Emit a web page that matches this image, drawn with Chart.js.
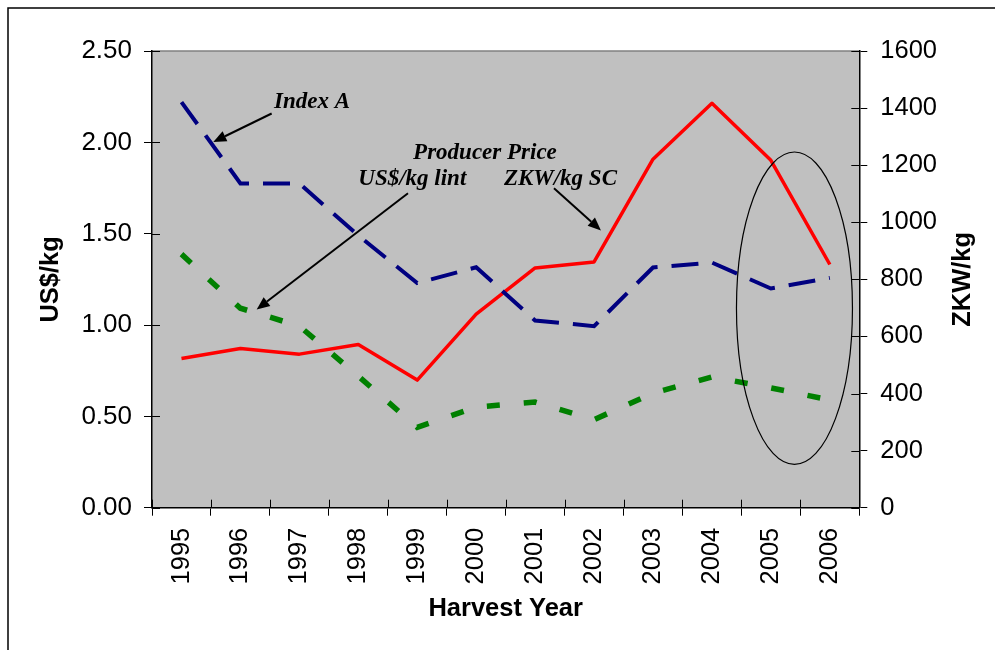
<!DOCTYPE html>
<html>
<head>
<meta charset="utf-8">
<style>
html,body{margin:0;padding:0;background:#fff;}
#wrap{width:995px;height:650px;position:relative;}
</style>
<script src="https://cdn.jsdelivr.net/npm/chart.js@4.4.1/dist/chart.umd.min.js"></script>
</head>
<body>
<div id="wrap"><canvas id="c" width="995" height="650"></canvas></div>
<script>
// ---- data ----
const years = ['1995','1996','1997','1998','1999','2000','2001','2002','2003','2004','2005','2006'];
const indexA = [2.22, 1.775, 1.775, 1.49, 1.23, 1.316, 1.025, 0.994, 1.315, 1.342, 1.20, 1.258];       // US$/kg
const producerUSD = [1.388, 1.092, 0.994, 0.72, 0.44, 0.551, 0.578, 0.482, 0.627, 0.716, 0.656, 0.59]; // US$/kg lint
const producerZKW = [523, 558, 538, 572, 447, 678, 840, 861, 1221, 1417, 1217, 852];                 // ZKW/kg SC
const leftAxisMax = 2.5, leftAxisStep = 0.5;
const rightAxisMax = 1600, rightAxisStep = 200;

// annotation texts (positions given in scale units: category index, left-axis value)
const noteTexts = [
  {text:'Index A', x:1.57, y:2.188},
  {text:'Producer Price', x:3.93, y:1.908},
  {text:'US$/kg lint', x:3.0, y:1.765},
  {text:'ZKW/kg SC', x:5.47, y:1.765}
];
const noteArrows = [
  {x1:1.53, y1:2.158, x2:0.54, y2:2.002},
  {x1:3.843, y1:1.721, x2:1.276, y2:1.085},
  {x1:6.32, y1:1.749, x2:7.117, y2:1.518}
];
const noteEllipse = {x:10.40, y:1.092, rx:0.984, ry:0.855};

const SANS = "'Liberation Sans', Arial, sans-serif";
const SERIF = "'Liberation Serif', 'Times New Roman', serif";
Chart.defaults.font.family = SANS;
Chart.defaults.color = '#000';

const bgPlugin = {
  id:'bg',
  beforeDraw(chart){
    const {ctx, chartArea:a} = chart;
    ctx.save();
    ctx.fillStyle = '#fff';
    ctx.fillRect(0,0,chart.width,chart.height);
    ctx.strokeStyle = '#000';
    ctx.lineWidth = 1.5;
    ctx.strokeRect(8,8,1100,800);
    ctx.fillStyle = '#C0C0C0';
    ctx.fillRect(a.left,a.top,a.right-a.left,a.bottom-a.top);
    ctx.strokeStyle = '#808080';
    ctx.lineWidth = 1.5;
    ctx.beginPath();
    ctx.moveTo(a.left,a.top);
    ctx.lineTo(a.right,a.top);
    ctx.stroke();
    ctx.restore();
  },
  beforeDatasetsDraw(chart){
    // inner half of the crossing tick marks
    const {ctx, chartArea:a, scales} = chart;
    ctx.save();
    ctx.strokeStyle = '#000';
    ctx.lineWidth = 1;
    ctx.beginPath();
    const L = scales.yL, R = scales.yR, X = scales.x;
    L.ticks.forEach((t,i)=>{ const y = Math.round(L.getPixelForTick(i))+0.5; ctx.moveTo(a.left,y); ctx.lineTo(a.left+8,y); });
    R.ticks.forEach((t,i)=>{ const y = Math.round(R.getPixelForTick(i))+0.5; ctx.moveTo(a.right,y); ctx.lineTo(a.right-8,y); });
    for (let i=0;i<=years.length;i++){
      const x = Math.round(X.getPixelForValue(i-0.5))+0.5;
      ctx.moveTo(x,a.bottom); ctx.lineTo(x,a.bottom-8);
    }
    ctx.stroke();
    ctx.restore();
  },
  afterDraw(chart){
    const {ctx, chartArea:a, scales} = chart;
    const X = scales.x, Y = scales.yL, R = scales.yR;
    const px = v => X.getPixelForValue(v);
    const py = v => Y.getPixelForValue(v);
    ctx.save();
    // right axis title, reading bottom to top
    ctx.font = "bold 25.5px " + SANS;
    ctx.fillStyle = '#000';
    ctx.textAlign = 'center';
    ctx.textBaseline = 'middle';
    ctx.translate(R.right - 32, (a.top + a.bottom)/2);
    ctx.rotate(-Math.PI/2);
    ctx.fillText('ZKW/kg', 0, 0);
    ctx.setTransform(1,0,0,1,0,0);
    // annotation texts
    ctx.font = "italic bold 23px " + SERIF;
    ctx.textAlign = 'left';
    ctx.textBaseline = 'alphabetic';
    noteTexts.forEach(n => ctx.fillText(n.text, px(n.x), py(n.y)));
    // arrows
    ctx.strokeStyle = '#000';
    ctx.fillStyle = '#000';
    ctx.lineWidth = 2;
    noteArrows.forEach(ar => {
      const x1 = px(ar.x1), y1 = py(ar.y1), x2 = px(ar.x2), y2 = py(ar.y2);
      const ang = Math.atan2(y2-y1, x2-x1);
      const hl = 13, hw = 5.5;
      const bx = x2 - hl*Math.cos(ang), by = y2 - hl*Math.sin(ang);
      ctx.beginPath();
      ctx.moveTo(x1,y1); ctx.lineTo(bx,by); ctx.stroke();
      ctx.beginPath();
      ctx.moveTo(x2,y2);
      ctx.lineTo(bx + hw*Math.sin(ang), by - hw*Math.cos(ang));
      ctx.lineTo(bx - hw*Math.sin(ang), by + hw*Math.cos(ang));
      ctx.closePath(); ctx.fill();
    });
    // ellipse
    const cx = px(noteEllipse.x), cy = py(noteEllipse.y);
    const rx = px(noteEllipse.x + noteEllipse.rx) - cx;
    const ry = cy - py(noteEllipse.y + noteEllipse.ry);
    ctx.lineWidth = 1.2;
    ctx.beginPath();
    ctx.ellipse(cx, cy, rx, ry, 0, 0, Math.PI*2);
    ctx.stroke();
    ctx.restore();
  }
};

new Chart(document.getElementById('c'), {
  type:'line',
  data:{
    labels: years,
    datasets:[
      {label:'Index A', data:indexA, yAxisID:'yL', borderColor:'#000080', borderWidth:4, borderDash:[27,14],
       borderCapStyle:'butt', borderJoinStyle:'miter', pointRadius:0, tension:0, fill:false},
      {label:'Producer Price US$/kg lint', data:producerUSD, yAxisID:'yL', borderColor:'#008000', borderWidth:5.5, borderDash:[13,24],
       borderCapStyle:'butt', borderJoinStyle:'miter', pointRadius:0, tension:0, fill:false},
      {label:'Producer Price ZKW/kg SC', data:producerZKW, yAxisID:'yR', borderColor:'#FF0000', borderWidth:3.5,
       borderCapStyle:'butt', borderJoinStyle:'round', pointRadius:0, tension:0, fill:false}
    ]
  },
  options:{
    responsive:false,
    animation:false,
    events:[],
    layout:{padding:{top:51,left:0,right:0,bottom:0}},
    plugins:{legend:{display:false}, tooltip:{enabled:false}},
    scales:{
      x:{
        offset:true,
        grid:{offset:true, drawOnChartArea:false, tickLength:8, color:'#000', lineWidth:1},
        border:{display:true, color:'#000', width:1.5},
        ticks:{minRotation:90, maxRotation:90, autoSkip:false, padding:12, font:{size:25.5}, color:'#000'},
        title:{display:true, text:'Harvest Year', font:{size:25.5, weight:'bold'}, color:'#000', padding:{top:0, bottom:25.5}},
        afterFit(s){ s.height = 142.3; }
      },
      yL:{
        position:'left', min:0, max:leftAxisMax,
        ticks:{stepSize:leftAxisStep, callback:v=>Number(v).toFixed(2), padding:12, font:{size:26}, color:'#000'},
        grid:{drawOnChartArea:false, tickLength:8, color:'#000', lineWidth:1},
        border:{display:true, color:'#000', width:1.5},
        title:{display:true, text:'US$/kg', font:{size:25.5, weight:'bold'}, color:'#000', padding:{top:36, bottom:0}},
        afterFit(s){ s.width = 152; }
      },
      yR:{
        position:'right', min:0, max:rightAxisMax,
        ticks:{stepSize:rightAxisStep, callback:v=>String(v), padding:13, font:{size:25.5}, color:'#000'},
        grid:{drawOnChartArea:false, tickLength:8, color:'#000', lineWidth:1},
        border:{display:true, color:'#000', width:1.5},
        title:{display:false},
        afterFit(s){ s.width = 135.7; }
      }
    }
  },
  plugins:[bgPlugin]
});
</script>
</body>
</html>
